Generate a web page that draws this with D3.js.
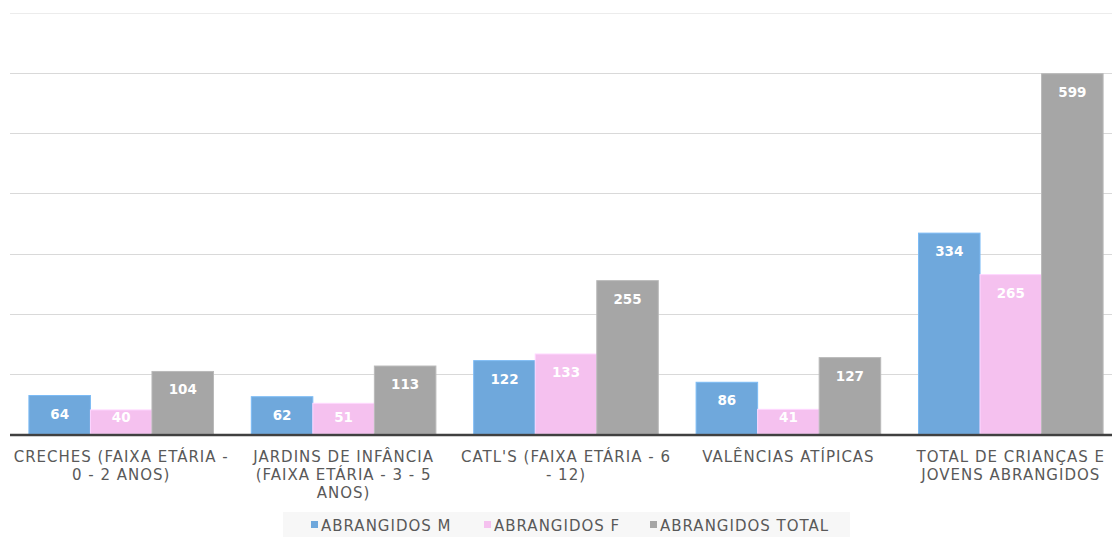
<!DOCTYPE html>
<html>
<head>
<meta charset="utf-8">
<script src="https://cdn.jsdelivr.net/npm/d3@7"></script>
<style>
  body { margin: 0; background: #fff; }
  svg { display: block; font-family: "DejaVu Sans", Verdana, sans-serif; }
</style>
</head>
<body>
<div id="chart"></div>
<script>
// chart data
var categories = [
  ["CRECHES (FAIXA ETÁRIA -", "0 - 2 ANOS)"],
  ["JARDINS DE INFÂNCIA", "(FAIXA ETÁRIA - 3 - 5", "ANOS)"],
  ["CATL'S (FAIXA ETÁRIA - 6", "- 12)"],
  ["VALÊNCIAS ATÍPICAS"],
  ["TOTAL DE CRIANÇAS E", "JOVENS ABRANGIDOS"]
];
var seriesNames = ["ABRANGIDOS M", "ABRANGIDOS F", "ABRANGIDOS TOTAL"];
var valuesM = [64, 62, 122, 86, 334];
var valuesF = [40, 51, 133, 41, 265];
var valuesTotal = [104, 113, 255, 127, 599];
var yTicks = [0, 100, 200, 300, 400, 500, 600, 700];

var colors = ["#6fa8dc", "#f5c1ef", "#a6a6a6"];
var allValues = [valuesM, valuesF, valuesTotal];

var width = 1112, height = 537;
var margin = {top: 13, left: 10, right: -10, bottom: 103};
var plot_height = height - margin.top - margin.bottom;

var svg = d3.select("#chart").append("svg")
    .attr("width", width)
    .attr("height", height);

var x = d3.scaleBand()
    .domain(d3.range(categories.length))
    .range([margin.left, width - margin.right])
    .paddingInner(0.17)
    .paddingOuter(0.085);

var xSub = d3.scaleBand()
    .domain(d3.range(seriesNames.length))
    .range([0, x.bandwidth()]);

var y = d3.scaleLinear()
    .domain([0, 700])
    .range([margin.top + plot_height, margin.top]);

// gridlines
svg.append("g").selectAll("line")
  .data(yTicks.slice(1))
  .enter().append("line")
    .attr("x1", margin.left)
    .attr("x2", width)
    .attr("y1", function(d) { return Math.round(y(d)) + 0.5; })
    .attr("y2", function(d) { return Math.round(y(d)) + 0.5; })
    .style("stroke", function(d) { return d == 700 ? "#ececec" : "#d9d9d9"; })
    .style("stroke-width", "1px");

// bars
allValues.forEach(function(vals, s) {
  svg.append("g").selectAll("rect")
    .data(vals)
    .enter().append("rect")
      .attr("x", function(d, i) { return x(i) + xSub(s); })
      .attr("width", xSub.bandwidth())
      .attr("y", function(d) { return y(d); })
      .attr("height", function(d) { return y(0) - y(d); })
      .style("fill", colors[s])
      .style("stroke", d3.color(colors[s]).brighter(0.3))
      .style("stroke-width", "1px");

  svg.append("g").selectAll("text")
    .data(vals)
    .enter().append("text")
      .attr("x", function(d, i) { return x(i) + xSub(s) + xSub.bandwidth() / 2; })
      .attr("y", function(d) { return Math.min(y(d) + 23, y(0) - 12); })
      .attr("text-anchor", "middle")
      .attr("font-size", "13.5px")
      .attr("font-weight", "bold")
      .attr("fill", "#fff")
      .text(function(d) { return d; });
});

// baseline
svg.append("line")
  .attr("x1", margin.left)
  .attr("x2", width)
  .attr("y1", y(0) + 1)
  .attr("y2", y(0) + 1)
  .style("stroke", "#404040")
  .style("stroke-width", "2.5px");

// category labels
var labels = svg.append("g").selectAll("text")
  .data(categories)
  .enter().append("text")
    .attr("text-anchor", "middle")
    .attr("font-size", "15px")
    .attr("letter-spacing", "1px")
    .attr("fill", "#595959");

labels.selectAll("tspan")
  .data(function(d, i) { return d.map(function(t) { return {t: t, i: i}; }); })
  .enter().append("tspan")
    .attr("x", function(d) { return x(d.i) + x.bandwidth() / 2; })
    .attr("y", function(d, j) { return y(0) + 28 + j * 18; })
    .text(function(d) { return d.t; });

// legend
var legend = svg.append("g");
legend.append("rect")
  .attr("x", 283)
  .attr("y", 512)
  .attr("width", 567)
  .attr("height", 25)
  .style("fill", "#f7f7f7");

var legendX = [311, 484, 650];
seriesNames.forEach(function(name, i) {
  legend.append("rect")
    .attr("x", legendX[i])
    .attr("y", 521)
    .attr("width", 7)
    .attr("height", 7)
    .style("fill", colors[i]);
  legend.append("text")
    .attr("x", legendX[i] + 10)
    .attr("y", 531)
    .attr("font-size", "15px")
    .attr("letter-spacing", "1px")
    .attr("fill", "#595959")
    .text(name);
});
</script>
</body>
</html>
